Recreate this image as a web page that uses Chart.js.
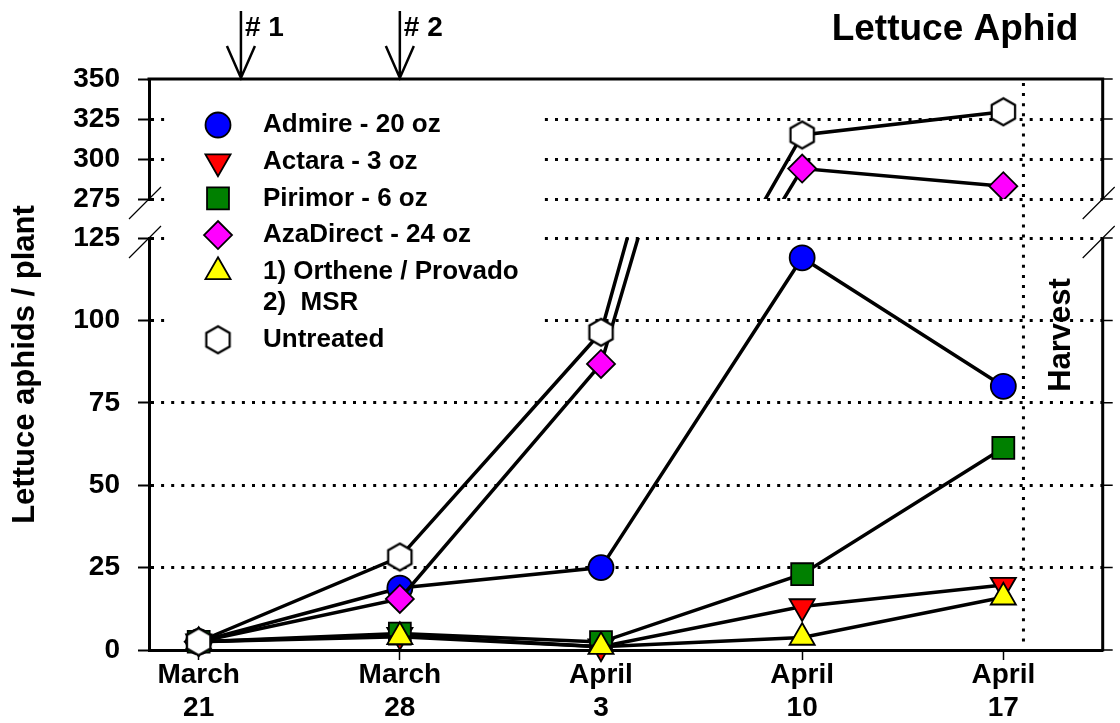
<!DOCTYPE html>
<html>
<head>
<meta charset="utf-8">
<title>Lettuce Aphid</title>
<script src="https://cdn.jsdelivr.net/npm/chart.js@4/dist/chart.umd.min.js"></script>
<style>
  html, body { margin: 0; padding: 0; background: #fff; }
  canvas { display: block; }
</style>
</head>
<body>
<canvas id="chart" width="1120" height="723"></canvas>
<script>
// sampling dates (x axis, one tick per sample)
var dateLabels = [['March', '21'], ['March', '28'], ['April', '3'], ['April', '10'], ['April', '17']];

// aphids per plant, one value per sampling date
var admire    = [2.5, 18.8, 25, 119, 80];
var actara    = [2.5, 4.5, 1, 13.2, 19.7];
var pirimor   = [2.5, 5, 2.4, 23, 61.3];
var azaDirect = [2.5, 15.5, 86.8, 294, 283];
var orthene   = [2.5, 4, 1, 3.8, 16];
var untreated = [2.5, 28.2, 96.4, 315, 329.5];

// broken y axis: lower and upper ranges
var lowRange = [0, 125];
var highRange = [275, 350];
var tickStep = 25;

// sprays (arrows) and harvest, in sample positions
var sprayLabels = ['# 1', '# 2'];
var sprayDates = [0.21, 1];
var harvestDate = 4.1;

var FONT = '"Liberation Sans", Arial, sans-serif';

function makeHexagon(r) {
    var c = document.createElement('canvas');
    var size = Math.ceil(2 * r + 4);
    c.width = size;
    c.height = size;
    var g = c.getContext('2d');
    g.beginPath();
    for (var i = 0; i < 6; i++) {
        var a = Math.PI / 3 * i;
        g.lineTo(size / 2 + r * Math.sin(a), size / 2 - r * Math.cos(a));
    }
    g.closePath();
    g.fillStyle = '#fff';
    g.fill();
    g.lineWidth = 2.2;
    g.strokeStyle = '#000';
    g.stroke();
    return c;
}

var series = [
    { name: ['Admire - 20 oz'], data: admire, color: '#0000ff', style: 'circle', radius: 12.5, rotation: 0 },
    { name: ['Actara - 3 oz'], data: actara, color: '#ff0000', style: 'triangle', radius: 14.5, rotation: 180 },
    { name: ['Pirimor - 6 oz'], data: pirimor, color: '#008000', style: 'rect', radius: 15.5, rotation: 0 },
    { name: ['AzaDirect - 24 oz'], data: azaDirect, color: '#ff00ff', style: 'rectRot', radius: 14, rotation: 0 },
    { name: ['1) Orthene / Provado', '2)  MSR'], data: orthene, color: '#ffff00', style: 'triangle', radius: 14.5, rotation: 0 },
    { name: ['Untreated'], data: untreated, color: '#ffffff', style: makeHexagon(13.5), radius: 13.5, rotation: 0 }
];

// every series is drawn twice: once on the lower panel, once on the upper panel
var datasets = [];
series.forEach(function (s, i) {
    ['yLow', 'yHigh'].forEach(function (axis) {
        datasets.push({
            label: s.name.join(' '),
            data: s.data.map(function (v, k) { return { x: k, y: v }; }),
            yAxisID: axis,
            borderColor: '#000',
            borderWidth: 3.5,
            pointStyle: s.style,
            pointRadius: s.radius,
            pointHoverRadius: s.radius,
            pointRotation: s.rotation,
            pointBackgroundColor: s.color,
            pointBorderColor: '#000',
            pointBorderWidth: 1.8,
            tension: 0,
            clip: false,
            order: series.length - i
        });
    });
});

function leftWidth(scale) { scale.width = 149; }

function yAxis(range, weight, stackWeight) {
    return {
        type: 'linear',
        position: 'left',
        stack: 'y',
        weight: weight,
        stackWeight: stackWeight,
        min: range[0],
        max: range[1],
        afterFit: leftWidth,
        ticks: {
            stepSize: tickStep,
            autoSkip: false,
            color: '#000',
            padding: 18,
            font: { family: FONT, size: 28, weight: 'bold' }
        },
        grid: {
            color: function (c) {
                var v = c.tick && c.tick.value;
                return (v === lowRange[0] || v === highRange[1]) ? 'rgba(0,0,0,0)' : '#000';
            },
            lineWidth: 3,
            tickLength: 11,
            tickColor: '#000',
            tickWidth: 2
        },
        border: { width: 3, color: '#000', dash: [3, 7.1] }
    };
}

var clipPanels = {
    id: 'clipPanels',
    beforeDatasetDraw: function (chart, args) {
        var ys = chart.scales[args.meta.yAxisID];
        var ctx = chart.ctx;
        ctx.save();
        ctx.beginPath();
        if (args.meta.yAxisID === 'yLow') {
            ctx.rect(0, ys.top, chart.width, chart.height - ys.top);
        } else {
            ctx.rect(0, 0, chart.width, ys.bottom);
        }
        ctx.clip();
    },
    afterDatasetDraw: function (chart) {
        chart.ctx.restore();
    }
};

var decorations = {
    id: 'decorations',
    beforeDatasetsDraw: function (chart) {
        var ctx = chart.ctx;
        var area = chart.chartArea;
        var hx = chart.scales.x.getPixelForValue(harvestDate);

        // harvest line
        ctx.save();
        ctx.strokeStyle = '#000';
        ctx.lineWidth = 3;
        ctx.setLineDash([3, 7.1]);
        ctx.beginPath();
        ctx.moveTo(hx, area.top + 4);
        ctx.lineTo(hx, area.bottom - 2);
        ctx.stroke();
        ctx.restore();

        // legend
        ctx.save();
        ctx.fillStyle = '#fff';
        ctx.fillRect(168, 90, 375, 275);
        ctx.font = 'bold 26px ' + FONT;
        ctx.textBaseline = 'middle';
        ctx.textAlign = 'left';
        var y = 125;
        series.forEach(function (s) {
            ctx.fillStyle = s.color;
            ctx.strokeStyle = '#000';
            ctx.lineWidth = 1.8;
            Chart.helpers.drawPoint(ctx, {
                pointStyle: s.style, radius: s.radius, rotation: s.rotation, borderWidth: 1.8
            }, 218, y);
            ctx.fillStyle = '#000';
            s.name.forEach(function (line, j) {
                ctx.fillText(line, 263, y + j * 31.3);
            });
            y += 36.7 + (s.name.length - 1) * 31.3;
        });
        ctx.restore();
    },
    afterDraw: function (chart) {
        var ctx = chart.ctx;
        var area = chart.chartArea;
        var low = chart.scales.yLow;
        var high = chart.scales.yHigh;
        var xs = chart.scales.x;

        ctx.save();
        ctx.strokeStyle = '#000';
        ctx.fillStyle = '#000';

        // top border and broken right border
        ctx.lineWidth = 3;
        ctx.beginPath();
        ctx.moveTo(area.left - 1.5, area.top);
        ctx.lineTo(area.right + 1.5, area.top);
        ctx.moveTo(area.right, area.top);
        ctx.lineTo(area.right, high.bottom);
        ctx.moveTo(area.right, low.top);
        ctx.lineTo(area.right, area.bottom + 1.5);
        ctx.stroke();

        // right ticks
        ctx.lineWidth = 1.5;
        ctx.beginPath();
        [high, low].forEach(function (sc) {
            sc.ticks.forEach(function (t) {
                var py = sc.getPixelForValue(t.value);
                ctx.moveTo(area.right, py);
                ctx.lineTo(area.right + 10, py);
            });
        });
        ctx.stroke();

        // break marks
        ctx.lineWidth = 1.2;
        ctx.beginPath();
        [area.left, area.right].forEach(function (bx) {
            [high.bottom, low.top].forEach(function (by) {
                ctx.moveTo(bx - 20, by + 20);
                ctx.lineTo(bx + 12, by - 12);
            });
        });
        ctx.stroke();

        // spray arrows
        ctx.font = 'bold 28px ' + FONT;
        ctx.textAlign = 'left';
        ctx.textBaseline = 'alphabetic';
        sprayDates.forEach(function (d, i) {
            var ax = xs.getPixelForValue(d);
            ctx.lineWidth = 2.5;
            ctx.beginPath();
            ctx.moveTo(ax, 11);
            ctx.lineTo(ax, area.top - 1);
            ctx.moveTo(ax - 14, area.top - 33);
            ctx.lineTo(ax, area.top - 1);
            ctx.lineTo(ax + 14, area.top - 33);
            ctx.stroke();
            ctx.fillText(sprayLabels[i], ax + 4, 36);
        });

        // chart title
        ctx.font = 'bold 37px ' + FONT;
        ctx.textAlign = 'center';
        ctx.fillText('Lettuce Aphid', 955, 40);

        // y axis title
        ctx.font = 'bold 31px ' + FONT;
        ctx.textBaseline = 'middle';
        ctx.save();
        ctx.translate(25, (area.top + area.bottom) / 2);
        ctx.rotate(-Math.PI / 2);
        ctx.fillText('Lettuce aphids / plant', 0, 0);
        ctx.restore();

        // harvest label
        ctx.font = 'bold 31px ' + FONT;
        ctx.save();
        ctx.translate(1061, 335);
        ctx.rotate(-Math.PI / 2);
        ctx.fillText('Harvest', 0, 0);
        ctx.restore();

        ctx.restore();
    }
};

var chart = new Chart(document.getElementById('chart'), {
    type: 'line',
    data: { datasets: datasets },
    options: {
        responsive: false,
        animation: false,
        devicePixelRatio: 1,
        layout: { padding: { top: 79, right: 12, left: 0, bottom: 0 } },
        plugins: {
            legend: { display: false },
            tooltip: { enabled: false }
        },
        scales: {
            x: {
                type: 'linear',
                min: -0.247,
                max: 4.494,
                afterBuildTicks: function (scale) {
                    scale.ticks = dateLabels.map(function (d, i) { return { value: i }; });
                },
                afterFit: function (scale) { scale.height = 73; },
                ticks: {
                    callback: function (v) { return dateLabels[v]; },
                    color: '#000',
                    padding: -2,
                    maxRotation: 0,
                    autoSkip: false,
                    font: { family: FONT, size: 28, weight: 'bold' }
                },
                grid: { drawOnChartArea: false, tickLength: 10, tickColor: '#000', tickWidth: 1.5 },
                border: { width: 3, color: '#000' }
            },
            yLow: yAxis(lowRange, 1, 412),
            yGap: {
                type: 'linear',
                position: 'left',
                stack: 'y',
                weight: 2,
                stackWeight: 39,
                min: 0,
                max: 1,
                afterFit: leftWidth,
                ticks: { display: false },
                grid: { display: false },
                border: { display: false }
            },
            yHigh: yAxis(highRange, 3, 120)
        }
    },
    plugins: [clipPanels, decorations]
});
</script>
</body>
</html>
